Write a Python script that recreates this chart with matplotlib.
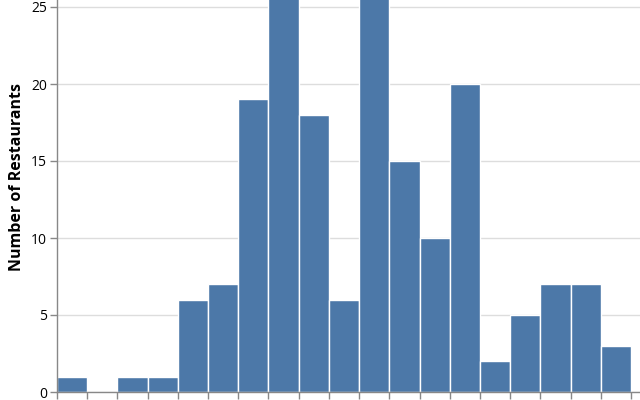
import matplotlib
matplotlib.use("Agg")
import matplotlib.pyplot as plt
import numpy as np

plt.rcParams['font.family'] = ['Open Sans', 'DejaVu Sans']

# bin counts (bars 7 and 10 exceed the visible range; estimated)
counts = [1, 0, 1, 1, 6, 7, 19, 28, 18, 6, 28, 15, 10, 20, 2, 5, 7, 7, 3]
y_ticks = [0, 5, 10, 15, 20, 25]
y_title = "Number of Restaurants"

W, H = 640, 400
fig = plt.figure(figsize=(W / 100, H / 100), dpi=100)
left_px, bottom_px = 57, 8
bin_px = (631 - 57) / len(counts)
ax = fig.add_axes([left_px / W, bottom_px / H, (W - left_px) / W, (H - bottom_px) / H])

edges = np.arange(len(counts))
ax.bar(edges, counts, width=1, align='edge', color='#4c78a8',
       edgecolor='white', linewidth=1, zorder=2)

ax.set_xlim(0, (W - left_px) / bin_px)
ax.set_ylim(0, 392 / 15.4)
ax.set_yticks(y_ticks)
ax.set_xticks(np.arange(len(counts) + 1))
ax.set_xticklabels([])
ax.yaxis.grid(True, color='#dddddd', linewidth=1, zorder=0)
ax.set_axisbelow(True)

for s in ['top', 'right']:
    ax.spines[s].set_visible(False)
for s in ['left', 'bottom']:
    ax.spines[s].set_color('#888888')
    ax.spines[s].set_linewidth(1)
    ax.spines[s].set_zorder(3)

ax.tick_params(axis='both', color='#888888', length=5, width=1)
ax.tick_params(axis='y', labelsize=10, pad=2, labelcolor='black')
ax.set_ylabel(y_title, fontsize=11.5, fontweight='bold')
ax.yaxis.set_label_coords(-0.055, (392 - 177) / 392)

fig.savefig('out.png', dpi=100)
